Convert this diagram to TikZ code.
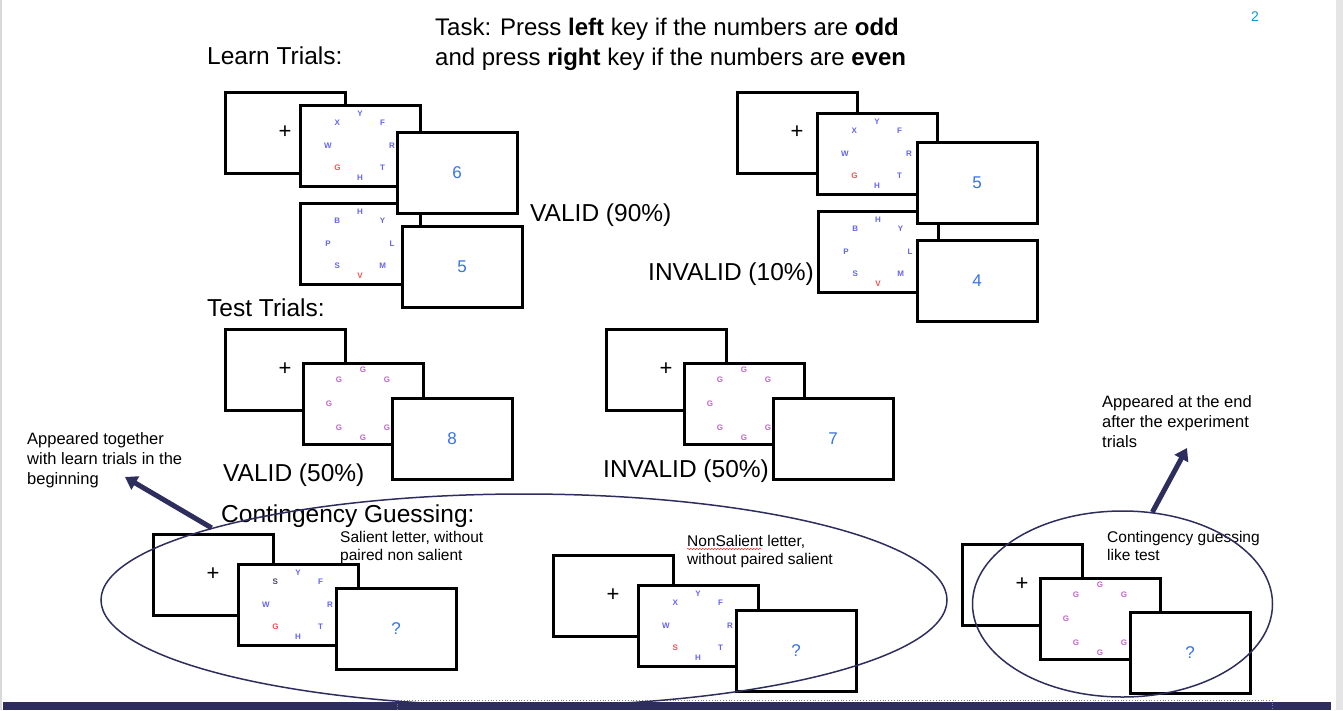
\documentclass[tikz,border=0pt]{standalone}
\usepackage{fontspec}
\setmainfont{Liberation Sans}
\usetikzlibrary{positioning, shapes.geometric, arrows.meta, decorations.pathmorphing}
\definecolor{navy}{RGB}{46,46,94}
\definecolor{ltblue}{RGB}{100,100,240}
\definecolor{ltred}{RGB}{240,80,80}
\definecolor{ltviolet}{RGB}{196,100,204}
\definecolor{ltdark}{RGB}{70,70,100}
\definecolor{numblue}{RGB}{55,115,230}
\definecolor{pgcyan}{RGB}{20,150,200}
\tikzstyle{scr}=[draw,fill=white,line width=3pt,anchor=north west,minimum width=120pt,minimum height=81pt,inner sep=0pt,outer sep=0pt]
\tikzstyle{fix}=[scr,font=\fontsize{22}{22}\selectfont]
\tikzstyle{num}=[scr,text=numblue,font=\fontsize{17}{17}\selectfont]
\tikzstyle{ltr}=[ltblue,font=\fontsize{8}{8}\selectfont\bfseries,inner sep=0pt]
\tikzstyle{sal}=[ltr,ltred]
\tikzstyle{drk}=[ltr,ltdark]
\tikzstyle{gee}=[ltr,ltviolet]
\tikzstyle{lbl}=[anchor=west,inner sep=0pt,text height=0.72em,text depth=0pt,font=\fontsize{24.5}{24.5}\selectfont]
\tikzstyle{note}=[anchor=north west,inner sep=0pt,align=left,font=\fontsize{15.5}{18}\selectfont]
\tikzstyle{ring}=[ellipse,draw=navy,line width=1.5pt,inner sep=0pt]
\tikzstyle{bigarr}=[navy,line width=5pt,-{Triangle[length=12pt,width=15pt]}]
% letters round the centre of a screen: letter/angle/style
\newcommand{\ringA}{Y/90/ltr,F/45/ltr,R/0/ltr,T/315/ltr,H/270/ltr,G/225/sal,W/180/ltr,X/135/ltr}
\newcommand{\ringB}{H/90/ltr,Y/45/ltr,L/0/ltr,M/315/ltr,V/270/sal,S/225/ltr,P/180/ltr,B/135/ltr}
\newcommand{\ringG}{G/90/gee,G/45/gee,G/0/gee,G/315/gee,G/270/gee,G/225/gee,G/180/gee,G/135/gee}
\newcommand{\ringC}{Y/90/ltr,F/45/ltr,R/0/ltr,T/315/ltr,H/270/ltr,G/225/sal,W/180/ltr,S/135/drk}
\newcommand{\ringD}{Y/90/ltr,F/45/ltr,R/0/ltr,T/315/ltr,H/270/ltr,S/225/sal,W/180/ltr,X/135/ltr}
\begin{document}
\begin{tikzpicture}[x=1pt,y=-1pt]
\useasboundingbox (0,0) rectangle (1343,710);
\fill[black!15] (0,0) rectangle (1.5,710);
\fill[black!10] (1336,0) rectangle (1343,710);
\fill[navy] (3,702) rectangle (1331,710);
\draw[gray,dotted,line width=0.8pt] (397,710) -- (397,700) -- (1272,700) -- (1272,710);
\node[text=pgcyan,font=\fontsize{14}{14}\selectfont] (pg) at (1255,17) {2};
% headings
\node[anchor=north west,inner sep=0pt,align=left,font=\fontsize{24}{30}\selectfont] (task) at (435,18) {Task: Press \textbf{left} key if the numbers are \textbf{odd}\\and press \textbf{right} key if the numbers are \textbf{even}};
\node[lbl] (learn) at (207,61) {Learn Trials:};
\node[lbl] (test) at (207,313) {Test Trials:};
\node[lbl] (cont) at (221,519) {Contingency Guessing:};
\node[lbl] (vA) at (530,218) {VALID (90\%)};
\node[lbl] (iA) at (648,277) {INVALID (10\%)};
\node[lbl] (vB) at (223,478) {VALID (50\%)};
\node[lbl] (iB) at (603,474) {INVALID (50\%)};
% screens
\foreach \n/\p in {fA/{225,92}, fB/{737,92}, fC/{225,329}, fD/{606,329}, fE/{153,534}, fF/{553,555}, fG/{962,544}}
    \node[fix] (\n) at (\p) {+};
\foreach \n/\p/\r/\d in {lA/{300,105}/A/32, lB/{300,203}/B/32, lC/{817,113}/A/32, lD/{818,211}/B/32, lE/{303,363}/G/34, lF/{684,363}/G/34, lG/{238,564}/C/32, lH/{638,585}/D/32, lI/{1040,578}/G/34} {
    \node[scr] (\n) at (\p) {};
    \expandafter\let\expandafter\ltrs\csname ring\r\endcsname
    \foreach \c/\a/\s in \ltrs \path (\n.center) ++(\a:\d pt) node[\s] (\n-\a) {\c};}
\foreach \n/\p/\t in {nA/{397,132}/6, nB/{402,226}/5, nC/{917,142}/5, nD/{917,240}/4, nE/{392,398}/8, nF/{773,398}/7, nG/{336,588}/?, nH/{736,610}/?, nI/{1130,612}/?}
    \node[num] (\n) at (\p) {\t};
% notes
\node[note,font=\fontsize{16.5}{20}\selectfont] (noteA) at (27,432) {Appeared together\\with learn trials in the\\beginning};
\node[note,font=\fontsize{16.5}{20}\selectfont] (noteB) at (1102,395) {Appeared at the end\\after the experiment\\trials};
\node[note] (noteC) at (340,531) {Salient letter, without\\paired non salient};
\node[note] (noteD) at (687,535) {NonSalient letter,\\without paired salient};
\node[note] (noteE) at (1107,531) {Contingency guessing\\like test};
\draw[red,decorate,decoration={snake,amplitude=0.7pt,segment length=3pt}] (687,549) -- (762,549);
% groups and arrows
\node[ring,minimum width=846pt,minimum height=212pt] (cgA) at (524,600) {};
\node[ring,minimum width=300pt,minimum height=186pt] (cgB) at (1122.5,604) {};
\coordinate (tipA) at (125,477);
\coordinate (tipB) at (1187,448);
\draw[bigarr] (cgA.167) -- (tipA);
\draw[bigarr] (cgB.72) -- (tipB);
\end{tikzpicture}
\end{document}
